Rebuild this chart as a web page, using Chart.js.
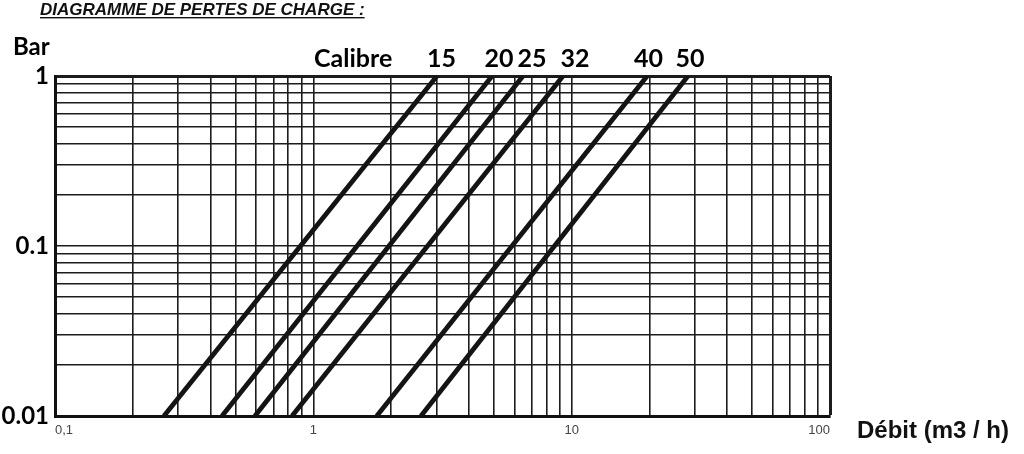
<!DOCTYPE html>
<html>
<head>
<meta charset="utf-8">
<script src="https://cdn.jsdelivr.net/npm/chart.js@4"></script>
<style>
  html, body { margin: 0; padding: 0; background: #fff; }
  #wrap { width: 1024px; height: 454px; position: relative; }
</style>
</head>
<body>
<div id="wrap"><canvas id="c" width="1024" height="454"></canvas></div>
<script>
// ---- data ----
const calibres = ['15', '20', '25', '32', '40', '50'];
const debitAtLowLoss = [0.264, 0.443, 0.594, 0.827, 1.76, 2.61];   // m3/h at 0.01 bar
const debitAtHighLoss = [3.01, 4.92, 6.48, 9.26, 19.6, 28.2];      // m3/h at 1 bar
const lossRange = [0.01, 1];                                       // bar
const xDecades = [0.1, 1, 10];
const yDecades = [0.01, 0.1];
const gridMantissas = [1, 2, 3, 4, 5, 6, 7, 8, 9];
const xTickLabels = { '0.1': '0,1', '1': '1', '10': '10', '100': '100' };
const yTickLabels = { '0.01': '0.01', '0.1': '0.1', '1': '1' };
const xMax = 100, yMax = 1;

function gridValues(decades, last) {
  const out = [];
  decades.forEach(d => gridMantissas.forEach(m => out.push(Number((d * m).toPrecision(3)))));
  out.push(last);
  return out;
}
const xGrid = gridValues(xDecades, xMax);
const yGrid = gridValues(yDecades, yMax);

const datasets = calibres.map((c, i) => ({
  label: c,
  data: [{ x: debitAtLowLoss[i], y: lossRange[0] }, { x: debitAtHighLoss[i], y: lossRange[1] }],
  borderColor: '#141414',
  borderWidth: 4.8,
  pointRadius: 0,
  tension: 0,
  fill: false
}));

const textPlugin = {
  id: 'texts',
  afterDraw(chart) {
    const ctx = chart.ctx;
    ctx.save();
    ctx.fillStyle = '#111';
    ctx.textBaseline = 'alphabetic';
    // title
    ctx.font = 'italic bold 17px "Liberation Sans", Arial, sans-serif';
    ctx.textAlign = 'left';
    const title = 'DIAGRAMME DE PERTES DE CHARGE :';
    ctx.fillText(title, 40, 15);
    const w = ctx.measureText(title).width;
    ctx.fillRect(40, 17, w, 1.4);
    // y axis unit
    ctx.font = 'bold 24px Lato, sans-serif';
    ctx.fillStyle = '#000';
    ctx.fillText('Bar', 13, 55);
    // calibre header
    ctx.font = 'bold 25px Lato, sans-serif';
    ctx.fillText('Calibre', 314, 67);
    const numX = [441.5, 499, 532, 575, 648.5, 690];
    ctx.textAlign = 'center';
    calibres.forEach((c, i) => ctx.fillText(c, numX[i], 67));
    // x axis unit
    ctx.textAlign = 'left';
    ctx.font = 'bold 24px "Liberation Sans", Arial, sans-serif';
    ctx.fillStyle = '#111';
    ctx.fillText('Débit (m3 / h)', 857, 438);
    ctx.restore();
  }
};

new Chart(document.getElementById('c'), {
  type: 'line',
  data: { datasets },
  plugins: [textPlugin],
  options: {
    responsive: false,
    animation: false,
    devicePixelRatio: 1,
    layout: { padding: { top: 76, right: 194, left: 0, bottom: 0 } },
    plugins: { legend: { display: false }, tooltip: { enabled: false }, title: { display: false } },
    scales: {
      x: {
        type: 'logarithmic',
        min: 0.1,
        max: xMax,
        afterBuildTicks: s => { s.ticks = xGrid.map(v => ({ value: v })); },
        afterFit: s => { s.height = 38; },
        ticks: {
          autoSkip: false,
          maxRotation: 0,
          align: 'inner',
          padding: 7,
          color: '#444',
          font: { family: '"Liberation Sans", Arial, sans-serif', size: 13 },
          callback: v => xTickLabels[String(Number(Number(v).toPrecision(3)))] || ''
        },
        grid: {
          color: '#1c1c1c',
          lineWidth: c => (c.tick && c.tick.value === xMax) ? 3 : 1.6,
          drawTicks: false
        },
        border: { display: true, color: '#111', width: 3 }
      },
      y: {
        type: 'logarithmic',
        min: 0.01,
        max: yMax,
        afterBuildTicks: s => { s.ticks = yGrid.map(v => ({ value: v })); },
        afterFit: s => { s.width = 55; },
        ticks: {
          autoSkip: false,
          padding: 6,
          color: '#000',
          font: { family: 'Lato, sans-serif', size: 24, weight: 'bold' },
          callback: v => yTickLabels[String(Number(Number(v).toPrecision(3)))] || ''
        },
        grid: {
          color: '#1c1c1c',
          lineWidth: c => (c.tick && c.tick.value === yMax) ? 3 : 1.6,
          drawTicks: false
        },
        border: { display: true, color: '#111', width: 3 }
      }
    }
  }
});
</script>
</body>
</html>
